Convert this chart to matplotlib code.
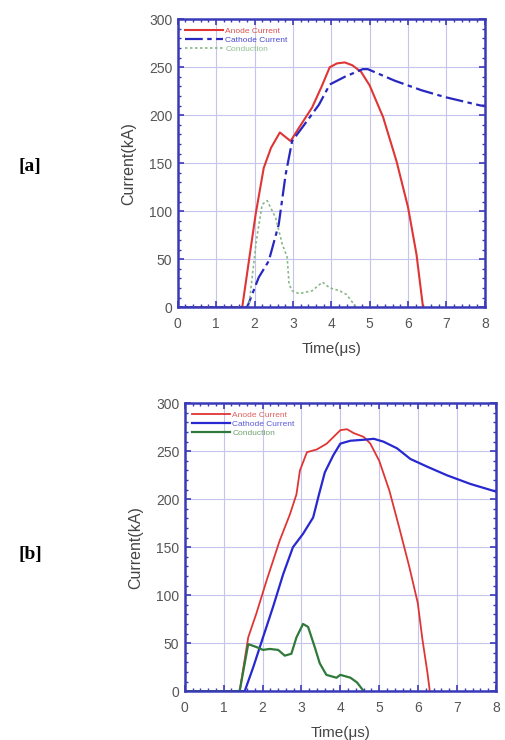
import matplotlib
matplotlib.use("Agg")
import matplotlib.pyplot as plt
from matplotlib.ticker import MultipleLocator

# ---- Panel (a) data ----
a_anode_t = [0, 1.68, 2.03, 2.24, 2.43, 2.66, 2.94, 3.16, 3.5, 3.75, 3.96, 4.15, 4.35, 4.55, 4.78, 5.0, 5.35, 5.7, 6.0, 6.22, 6.39]
a_anode_i = [0, 0, 97, 145, 166, 182, 173, 187, 208, 230, 250, 254, 255, 252, 245, 231, 198, 152, 104, 55, 0]
a_cath_t = [0, 1.81, 2.11, 2.37, 2.63, 2.81, 2.98, 3.24, 3.68, 3.96, 4.35, 4.82, 4.95, 5.65, 6.35, 6.95, 7.9, 8.0]
a_cath_i = [0, 0, 31, 48, 86, 138, 173, 187, 211, 232, 240, 248, 248, 236, 226, 219, 210, 210]
a_cond_t = [0, 1.85, 2.05, 2.2, 2.33, 2.55, 2.72, 2.85, 2.9, 2.98, 3.16, 3.5, 3.77, 3.96, 4.22, 4.4, 4.57, 4.65]
a_cond_i = [0, 0, 70, 107, 111, 93, 66, 52, 24, 17, 14, 17, 26, 20, 17, 13, 4, 0]

# ---- Panel (b) data ----
b_anode_t = [0, 1.41, 1.63, 1.84, 2.1, 2.44, 2.7, 2.87, 2.96, 3.14, 3.4, 3.65, 4.0, 4.17, 4.34, 4.6, 4.77, 5.0, 5.26, 5.51, 5.77, 5.99, 6.11, 6.24, 6.3]
b_anode_i = [0, 0, 56, 81, 115, 157, 184, 205, 230, 249, 252, 258, 272, 273, 269, 265, 258, 240, 209, 171, 130, 92, 54, 19, 0]
b_cath_t = [0, 1.54, 1.76, 2.01, 2.27, 2.53, 2.78, 3.04, 3.3, 3.45, 3.6, 3.82, 4.0, 4.26, 4.6, 4.86, 5.11, 5.46, 5.8, 6.23, 6.74, 7.34, 8.0]
b_cath_i = [0, 0, 25, 56, 88, 122, 150, 164, 181, 205, 228, 246, 258, 261, 262, 263, 260, 253, 242, 234, 225, 216, 208]
b_cond_t = [0, 1.41, 1.63, 1.84, 2.01, 2.18, 2.4, 2.57, 2.74, 2.87, 3.04, 3.17, 3.34, 3.47, 3.64, 3.9, 4.0, 4.26, 4.43, 4.6]
b_cond_i = [0, 0, 49, 46, 43, 44, 43, 37, 39, 56, 70, 67, 46, 29, 17, 14, 17, 14, 9, 0]

legend_labels = ["Anode Current", "Cathode Current", "Conduction"]
panel_labels = ["[a]", "[b]"]
xticks = [0, 1, 2, 3, 4, 5, 6, 7, 8]
yticks = [0, 50, 100, 150, 200, 250, 300]

plt.rcParams['font.family'] = ['Liberation Sans', 'DejaVu Sans']

fig = plt.figure(figsize=(5.05, 7.4), dpi=100)
ax1 = fig.add_axes([0.352, 0.585, 0.608, 0.389])
ax2 = fig.add_axes([0.366, 0.066, 0.616, 0.389])

spine_c = '#3a3ab8'
grid_c = '#c4c4ec'

def style(ax):
    ax.set_xlim(0, 8)
    ax.set_ylim(0, 300)
    ax.set_xticks(xticks)
    ax.set_yticks(yticks)
    ax.xaxis.set_minor_locator(MultipleLocator(0.2))
    ax.yaxis.set_minor_locator(MultipleLocator(10))
    ax.grid(True, which='major', color=grid_c, linewidth=0.8)
    ax.set_axisbelow(True)
    for s in ax.spines.values():
        s.set_color(spine_c)
        s.set_linewidth(1.8)
    ax.tick_params(which='both', direction='in', top=True, right=True, color=spine_c,
                   labelcolor='#555555', labelsize=10)
    ax.tick_params(which='major', length=4, width=1.2)
    ax.tick_params(which='minor', length=2.5, width=1.0)
    ax.tick_params(axis='x', which='major', pad=7)
    ax.tick_params(axis='y', which='major', pad=4)
    ax.set_xlabel("Time(μs)", fontsize=11, color='#444444', labelpad=8)
    ax.set_ylabel("Current(kA)", fontsize=11.5, color='#444444', labelpad=9)

style(ax1)
style(ax2)

ax1.plot(a_anode_t, a_anode_i, color='#e03535', lw=1.5, label=legend_labels[0])
ax1.plot(a_cath_t, a_cath_i, color='#2828c0', lw=1.6, ls=(0, (8, 2, 2, 2)), label=legend_labels[1])
ax1.plot(a_cond_t, a_cond_i, color='#88b888', lw=1.2, ls=(0, (1.5, 1.5)), label=legend_labels[2])

ax2.plot(b_anode_t, b_anode_i, color='#e03535', lw=1.3, label=legend_labels[0])
ax2.plot(b_cath_t, b_cath_i, color='#2828d0', lw=1.6, label=legend_labels[1])
ax2.plot(b_cond_t, b_cond_i, color='#2f7a3a', lw=1.6, label=legend_labels[2])

for ax, col_txt in ((ax1, ['#e05050', '#4a4ad0', '#90c090']), (ax2, ['#e06060', '#5a5ad8', '#70a070'])):
    leg = ax.legend(loc='upper left', bbox_to_anchor=(0.0, 1.0), frameon=False, fontsize=6,
                    handlelength=4.5, handletextpad=0.3, labelspacing=0.15, borderaxespad=0.5)
    for t, c in zip(leg.get_texts(), col_txt):
        t.set_color(c)

fig.text(30 / 505, 1 - 166 / 740, panel_labels[0], fontsize=14, fontweight='bold',
         family='Liberation Serif', ha='center', va='center')
fig.text(30 / 505, 1 - 555 / 740, panel_labels[1], fontsize=14, fontweight='bold',
         family='Liberation Serif', ha='center', va='center')

fig.savefig("out.png", dpi=100)
